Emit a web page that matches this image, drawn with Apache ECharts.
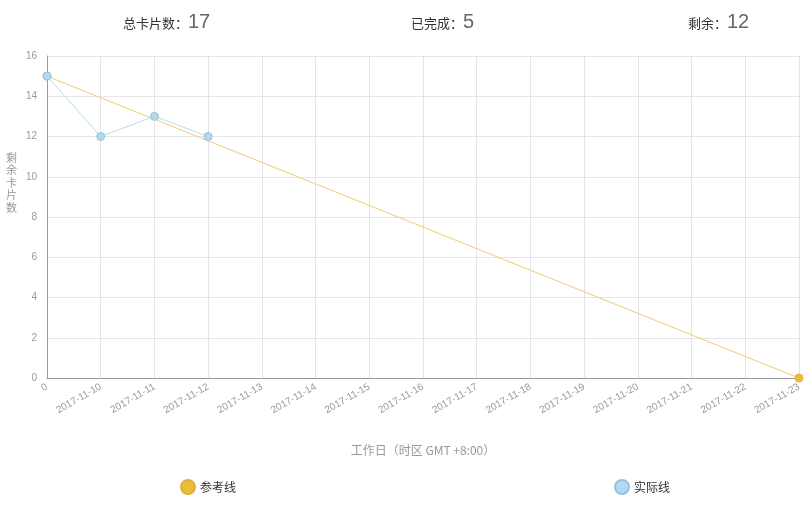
<!DOCTYPE html>
<html><head><meta charset="utf-8">
<script src="https://cdn.jsdelivr.net/npm/echarts@6/dist/echarts.min.js"></script>
<style>html,body{margin:0;padding:0;background:#fff}#c{width:812px;height:505px}</style>
</head><body><div id="c"></div>
<script>
var categories = ['0','2017-11-10','2017-11-11','2017-11-12','2017-11-13','2017-11-14','2017-11-15','2017-11-16','2017-11-17','2017-11-18','2017-11-19','2017-11-20','2017-11-21','2017-11-22','2017-11-23'];
var referenceValues = [15,null,null,null,null,null,null,null,null,null,null,null,null,null,0];
var actualValues = [15,12,13,12];
var yTicks = [0,2,4,6,8,10,12,14,16];
var summary = [['总卡片数：','17'],['已完成：','5'],['剩余：','12']];
var seriesNames = ['参考线','实际线'];

var font = '"Microsoft YaHei","Noto Sans CJK SC",sans-serif';
var chart = echarts.init(document.getElementById('c'));
var titleLefts = [118, 406, 683];
var titles = summary.map(function(s, i){
  return {
    text: '{a|' + s[0] + '}{b|' + s[1] + '}',
    left: titleLefts[i], top: 7,
    textStyle: {
      fontFamily: font, fontWeight: 'normal',
      rich: {
        a: {fontSize: 13, color: '#333', fontFamily: font, fontWeight: 'normal', verticalAlign: 'bottom', padding:[0,0,2,0]},
        b: {fontSize: 20, color: '#666', fontFamily: 'Liberation Sans, Arial, sans-serif', fontWeight: 'normal', verticalAlign: 'bottom'}
      }
    }
  };
});
chart.setOption({
  animation: false,
  title: titles,
  legend: [
    {data: [seriesNames[0]], left: 175, top: 474, icon: 'circle', itemWidth: 14, itemHeight: 14,
     textStyle: {fontSize: 12, color: '#333', fontFamily: font}},
    {data: [seriesNames[1]], left: 609, top: 474, icon: 'circle', itemWidth: 14, itemHeight: 14,
     textStyle: {fontSize: 12, color: '#333', fontFamily: font}}
  ],
  grid: {left: 47, right: 13, top: 56, bottom: 127, containLabel: false},
  xAxis: {
    type: 'category', boundaryGap: false, data: categories,
    name: '工作日（时区 GMT +8:00）', nameLocation: 'middle', nameGap: 66,
    nameTextStyle: {color: '#999', fontSize: 12, fontFamily: font},
    axisLine: {lineStyle: {color: '#999'}},
    axisTick: {show: false},
    axisLabel: {rotate: 30, color: '#999', fontSize: 10, interval: 0, margin: 8, fontFamily: 'Liberation Sans, Arial, sans-serif'},
    splitLine: {show: true, lineStyle: {color: '#e6e6e6'}}
  },
  yAxis: {
    type: 'value', min: yTicks[0], max: yTicks[yTicks.length-1], interval: 2,
    name: '剩\n余\n卡\n片\n数', nameLocation: 'middle', nameRotate: 0, nameGap: 30,
    nameTextStyle: {color: '#999', fontSize: 11, fontFamily: font, lineHeight: 12.5, verticalAlign: 'bottom', padding: [0,0,3,0]},
    axisLine: {show: true, lineStyle: {color: '#999'}},
    axisTick: {show: false},
    axisLabel: {color: '#999', fontSize: 10, margin: 10, fontFamily: 'Liberation Sans, Arial, sans-serif'},
    splitLine: {show: true, lineStyle: {color: '#e6e6e6'}}
  },
  series: [
    {name: seriesNames[0], type: 'line', data: referenceValues, connectNulls: true,
     symbol: 'circle', symbolSize: 8,
     lineStyle: {color: '#f0cc6e', width: 1},
     itemStyle: {color: '#ecbd38', borderColor: '#e0b040', borderWidth: 1}},
    {name: seriesNames[1], type: 'line', data: actualValues,
     symbol: 'circle', symbolSize: 8,
     lineStyle: {color: '#b9dcec', width: 1},
     itemStyle: {color: '#b3d9f2', borderColor: '#92c3e0', borderWidth: 1}}
  ]
});
</script></body></html>
